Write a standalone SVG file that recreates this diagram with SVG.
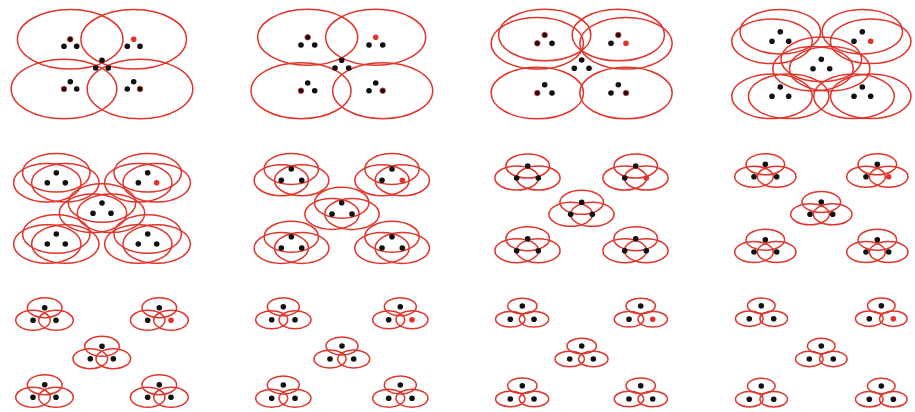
<svg xmlns="http://www.w3.org/2000/svg" width="915" height="412" viewBox="0 0 915 412">
<style>
.e{fill:none;stroke:#e0352b;stroke-width:1.5}
.d{fill:#111;r:2.8px}
.r{fill:#e0352b;r:2.8px}
.c{fill:#111;stroke:#e0352b;stroke-width:0.8;r:2.8px}
</style>
<rect width="915" height="412" fill="#fff"/>
<g id="panel1">
<ellipse class="e" cx="70.2" cy="39.3" rx="52.8" ry="29.8"/><ellipse class="e" cx="133.7" cy="39.3" rx="52.8" ry="29.8"/><ellipse class="e" cx="64" cy="89" rx="52.8" ry="29.8"/><ellipse class="e" cx="140" cy="89" rx="52.8" ry="29.8"/>
<circle class="c" cx="70.2" cy="39.3" r="2.6"/><circle class="d" cx="64" cy="46.3" r="2.6"/><circle class="d" cx="76.7" cy="46.3" r="2.6"/>
<circle class="r" cx="133.7" cy="39.3" r="2.6"/><circle class="d" cx="127.3" cy="46.3" r="2.6"/><circle class="d" cx="140" cy="46.3" r="2.6"/>
<circle class="d" cx="102" cy="60.3" r="2.6"/><circle class="d" cx="95.7" cy="68" r="2.6"/><circle class="d" cx="108.3" cy="68" r="2.6"/>
<circle class="d" cx="70.3" cy="81.7" r="2.6"/><circle class="c" cx="64" cy="89" r="2.6"/><circle class="d" cx="76.7" cy="89" r="2.6"/>
<circle class="d" cx="133.7" cy="81.7" r="2.6"/><circle class="d" cx="127.3" cy="89" r="2.6"/><circle class="c" cx="140" cy="89" r="2.6"/>
</g>
<g id="panel2">
<ellipse class="e" cx="307.7" cy="37.3" rx="50" ry="28"/><ellipse class="e" cx="375.7" cy="37.3" rx="50" ry="28"/><ellipse class="e" cx="301" cy="90.7" rx="50" ry="28"/><ellipse class="e" cx="382.7" cy="90.7" rx="50" ry="28"/>
<circle class="c" cx="307.7" cy="37.3" r="2.6"/><circle class="d" cx="301" cy="45" r="2.6"/><circle class="d" cx="314.7" cy="45" r="2.6"/>
<circle class="r" cx="375.7" cy="37.3" r="2.6"/><circle class="d" cx="369" cy="45" r="2.6"/><circle class="d" cx="382.7" cy="45" r="2.6"/>
<circle class="d" cx="341.7" cy="60.3" r="2.6"/><circle class="d" cx="335" cy="68" r="2.6"/><circle class="d" cx="348.7" cy="68" r="2.6"/>
<circle class="d" cx="307.7" cy="83" r="2.6"/><circle class="c" cx="301" cy="90.7" r="2.6"/><circle class="d" cx="314.7" cy="90.7" r="2.6"/>
<circle class="d" cx="375.7" cy="83" r="2.6"/><circle class="d" cx="369" cy="90.7" r="2.6"/><circle class="c" cx="382.7" cy="90.7" r="2.6"/>
</g>
<g id="panel3">
<ellipse class="e" cx="544.7" cy="35" rx="46.2" ry="25.8"/><ellipse class="e" cx="537.3" cy="43.3" rx="46.2" ry="25.8"/><ellipse class="e" cx="618.3" cy="35" rx="46.2" ry="25.8"/><ellipse class="e" cx="626" cy="43.3" rx="46.2" ry="25.8"/><ellipse class="e" cx="537.3" cy="93" rx="46.2" ry="25.8"/><ellipse class="e" cx="626" cy="93" rx="46.2" ry="25.8"/>
<circle class="c" cx="544.7" cy="35" r="2.6"/><circle class="c" cx="537.3" cy="43.3" r="2.6"/><circle class="d" cx="552" cy="43.3" r="2.6"/>
<circle class="c" cx="618.3" cy="35" r="2.6"/><circle class="d" cx="611" cy="43.3" r="2.6"/><circle class="r" cx="626" cy="43.3" r="2.6"/>
<circle class="d" cx="581.7" cy="60" r="2.6"/><circle class="d" cx="574.3" cy="68.3" r="2.6"/><circle class="d" cx="589" cy="68.3" r="2.6"/>
<circle class="d" cx="544.7" cy="84.7" r="2.6"/><circle class="c" cx="537.3" cy="93" r="2.6"/><circle class="d" cx="552" cy="93" r="2.6"/>
<circle class="d" cx="618.3" cy="84.7" r="2.6"/><circle class="d" cx="611" cy="93" r="2.6"/><circle class="c" cx="626" cy="93" r="2.6"/>
</g>
<g id="panel4">
<ellipse class="e" cx="780.3" cy="31.7" rx="40.3" ry="22.3"/><ellipse class="e" cx="772" cy="41.3" rx="40.3" ry="22.3"/><ellipse class="e" cx="862.3" cy="31.7" rx="40.3" ry="22.3"/><ellipse class="e" cx="870.7" cy="41.3" rx="40.3" ry="22.3"/>
<ellipse class="e" cx="821.3" cy="59.3" rx="40.3" ry="22.3"/><ellipse class="e" cx="813" cy="68.7" rx="40.3" ry="22.3"/><ellipse class="e" cx="829.7" cy="68.7" rx="40.3" ry="22.3"/>
<ellipse class="e" cx="772" cy="96.3" rx="40.3" ry="22.3"/><ellipse class="e" cx="788.7" cy="96.3" rx="40.3" ry="22.3"/><ellipse class="e" cx="854" cy="96.3" rx="40.3" ry="22.3"/><ellipse class="e" cx="870.7" cy="96.3" rx="40.3" ry="22.3"/>
<circle class="d" cx="780.3" cy="31.7" r="2.6"/><circle class="d" cx="772" cy="41.3" r="2.6"/><circle class="d" cx="788.7" cy="41.3" r="2.6"/>
<circle class="d" cx="862.3" cy="31.7" r="2.6"/><circle class="d" cx="854" cy="41.3" r="2.6"/><circle class="r" cx="870.7" cy="41.3" r="2.6"/>
<circle class="d" cx="821.3" cy="59.3" r="2.6"/><circle class="d" cx="813" cy="68.7" r="2.6"/><circle class="d" cx="829.7" cy="68.7" r="2.6"/>
<circle class="d" cx="780.3" cy="87" r="2.6"/><circle class="d" cx="772" cy="96.3" r="2.6"/><circle class="d" cx="788.7" cy="96.3" r="2.6"/>
<circle class="d" cx="862.3" cy="87" r="2.6"/><circle class="d" cx="854" cy="96.3" r="2.6"/><circle class="d" cx="870.7" cy="96.3" r="2.6"/>
</g>
<g id="panel5">
<ellipse class="e" cx="56.3" cy="172.7" rx="33.7" ry="19.3"/><ellipse class="e" cx="47.3" cy="182.7" rx="33.7" ry="19.3"/><ellipse class="e" cx="65.3" cy="182.7" rx="33.7" ry="19.3"/>
<ellipse class="e" cx="147.7" cy="172.7" rx="33.7" ry="19.3"/><ellipse class="e" cx="138.3" cy="182.7" rx="33.7" ry="19.3"/><ellipse class="e" cx="156.7" cy="182.7" rx="33.7" ry="19.3"/>
<ellipse class="e" cx="102" cy="203" rx="33.7" ry="19.3"/><ellipse class="e" cx="93" cy="213.3" rx="33.7" ry="19.3"/><ellipse class="e" cx="111" cy="213.3" rx="33.7" ry="19.3"/>
<ellipse class="e" cx="56.3" cy="234" rx="33.7" ry="19.3"/><ellipse class="e" cx="47.3" cy="244" rx="33.7" ry="19.3"/><ellipse class="e" cx="65.3" cy="244" rx="33.7" ry="19.3"/>
<ellipse class="e" cx="147.7" cy="234" rx="33.7" ry="19.3"/><ellipse class="e" cx="138.3" cy="244" rx="33.7" ry="19.3"/><ellipse class="e" cx="156.7" cy="244" rx="33.7" ry="19.3"/>
<circle class="d" cx="56.3" cy="172.7" r="2.6"/><circle class="d" cx="47.3" cy="182.7" r="2.6"/><circle class="d" cx="65.3" cy="182.7" r="2.6"/>
<circle class="d" cx="147.7" cy="172.7" r="2.6"/><circle class="d" cx="138.3" cy="182.7" r="2.6"/><circle class="r" cx="156.7" cy="182.7" r="2.6"/>
<circle class="d" cx="102" cy="203" r="2.6"/><circle class="d" cx="93" cy="213.3" r="2.6"/><circle class="d" cx="111" cy="213.3" r="2.6"/>
<circle class="d" cx="56.3" cy="234" r="2.6"/><circle class="d" cx="47.3" cy="244" r="2.6"/><circle class="d" cx="65.3" cy="244" r="2.6"/>
<circle class="d" cx="147.7" cy="234" r="2.6"/><circle class="d" cx="138.3" cy="244" r="2.6"/><circle class="d" cx="156.7" cy="244" r="2.6"/>
</g>
<g id="panel6">
<ellipse class="e" cx="291.3" cy="169" rx="27.2" ry="15.5"/><ellipse class="e" cx="281.3" cy="180.3" rx="27.2" ry="15.5"/><ellipse class="e" cx="301.7" cy="180.3" rx="27.2" ry="15.5"/>
<ellipse class="e" cx="392" cy="169" rx="27.2" ry="15.5"/><ellipse class="e" cx="382" cy="180.3" rx="27.2" ry="15.5"/><ellipse class="e" cx="402.3" cy="180.3" rx="27.2" ry="15.5"/>
<ellipse class="e" cx="341.7" cy="202.7" rx="27.2" ry="15.5"/><ellipse class="e" cx="332" cy="214" rx="27.2" ry="15.5"/><ellipse class="e" cx="352" cy="214" rx="27.2" ry="15.5"/>
<ellipse class="e" cx="291.3" cy="236.7" rx="27.2" ry="15.5"/><ellipse class="e" cx="281.3" cy="248" rx="27.2" ry="15.5"/><ellipse class="e" cx="301.7" cy="248" rx="27.2" ry="15.5"/>
<ellipse class="e" cx="392" cy="236.7" rx="27.2" ry="15.5"/><ellipse class="e" cx="382" cy="248" rx="27.2" ry="15.5"/><ellipse class="e" cx="402.3" cy="248" rx="27.2" ry="15.5"/>
<circle class="d" cx="291.3" cy="169" r="2.6"/><circle class="d" cx="281.3" cy="180.3" r="2.6"/><circle class="d" cx="301.7" cy="180.3" r="2.6"/>
<circle class="d" cx="392" cy="169" r="2.6"/><circle class="d" cx="382" cy="180.3" r="2.6"/><circle class="r" cx="402.3" cy="180.3" r="2.6"/>
<circle class="d" cx="341.7" cy="202.7" r="2.6"/><circle class="d" cx="332" cy="214" r="2.6"/><circle class="d" cx="352" cy="214" r="2.6"/>
<circle class="d" cx="291.3" cy="236.7" r="2.6"/><circle class="d" cx="281.3" cy="248" r="2.6"/><circle class="d" cx="301.7" cy="248" r="2.6"/>
<circle class="d" cx="392" cy="236.7" r="2.6"/><circle class="d" cx="382" cy="248" r="2.6"/><circle class="d" cx="402.3" cy="248" r="2.6"/>
</g>
<g id="panel7">
<ellipse class="e" cx="527.7" cy="166" rx="21.8" ry="12"/><ellipse class="e" cx="516.7" cy="178" rx="21.8" ry="12"/><ellipse class="e" cx="538.3" cy="178" rx="21.8" ry="12"/>
<ellipse class="e" cx="635.7" cy="166" rx="21.8" ry="12"/><ellipse class="e" cx="624.7" cy="178" rx="21.8" ry="12"/><ellipse class="e" cx="646.3" cy="178" rx="21.8" ry="12"/>
<ellipse class="e" cx="581.7" cy="202.3" rx="21.8" ry="12"/><ellipse class="e" cx="570.7" cy="214.3" rx="21.8" ry="12"/><ellipse class="e" cx="592.3" cy="214.3" rx="21.8" ry="12"/>
<ellipse class="e" cx="527.7" cy="238.7" rx="21.8" ry="12"/><ellipse class="e" cx="516.7" cy="250.7" rx="21.8" ry="12"/><ellipse class="e" cx="538.3" cy="250.7" rx="21.8" ry="12"/>
<ellipse class="e" cx="635.7" cy="238.7" rx="21.8" ry="12"/><ellipse class="e" cx="624.7" cy="250.7" rx="21.8" ry="12"/><ellipse class="e" cx="646.3" cy="250.7" rx="21.8" ry="12"/>
<circle class="d" cx="527.7" cy="166" r="2.6"/><circle class="d" cx="516.7" cy="178" r="2.6"/><circle class="d" cx="538.3" cy="178" r="2.6"/>
<circle class="d" cx="635.7" cy="166" r="2.6"/><circle class="d" cx="624.7" cy="178" r="2.6"/><circle class="r" cx="646.3" cy="178" r="2.6"/>
<circle class="d" cx="581.7" cy="202.3" r="2.6"/><circle class="d" cx="570.7" cy="214.3" r="2.6"/><circle class="d" cx="592.3" cy="214.3" r="2.6"/>
<circle class="d" cx="527.7" cy="238.7" r="2.6"/><circle class="d" cx="516.7" cy="250.7" r="2.6"/><circle class="d" cx="538.3" cy="250.7" r="2.6"/>
<circle class="d" cx="635.7" cy="238.7" r="2.6"/><circle class="d" cx="624.7" cy="250.7" r="2.6"/><circle class="d" cx="646.3" cy="250.7" r="2.6"/>
</g>
<g id="panel8">
<ellipse class="e" cx="765.3" cy="164.3" rx="19.3" ry="10.5"/><ellipse class="e" cx="754" cy="176.7" rx="19.3" ry="10.5"/><ellipse class="e" cx="776.7" cy="176.7" rx="19.3" ry="10.5"/>
<ellipse class="e" cx="877.3" cy="164.3" rx="19.3" ry="10.5"/><ellipse class="e" cx="866" cy="176.7" rx="19.3" ry="10.5"/><ellipse class="e" cx="888.7" cy="176.7" rx="19.3" ry="10.5"/>
<ellipse class="e" cx="821.3" cy="202" rx="19.3" ry="10.5"/><ellipse class="e" cx="810" cy="214.3" rx="19.3" ry="10.5"/><ellipse class="e" cx="832.7" cy="214.3" rx="19.3" ry="10.5"/>
<ellipse class="e" cx="765.3" cy="239.7" rx="19.3" ry="10.5"/><ellipse class="e" cx="754" cy="252" rx="19.3" ry="10.5"/><ellipse class="e" cx="776.7" cy="252" rx="19.3" ry="10.5"/>
<ellipse class="e" cx="877.3" cy="239.7" rx="19.3" ry="10.5"/><ellipse class="e" cx="866" cy="252" rx="19.3" ry="10.5"/><ellipse class="e" cx="888.7" cy="252" rx="19.3" ry="10.5"/>
<circle class="d" cx="765.3" cy="164.3" r="2.6"/><circle class="d" cx="754" cy="176.7" r="2.6"/><circle class="d" cx="776.7" cy="176.7" r="2.6"/>
<circle class="d" cx="877.3" cy="164.3" r="2.6"/><circle class="d" cx="866" cy="176.7" r="2.6"/><circle class="r" cx="888.7" cy="176.7" r="2.6"/>
<circle class="d" cx="821.3" cy="202" r="2.6"/><circle class="d" cx="810" cy="214.3" r="2.6"/><circle class="d" cx="832.7" cy="214.3" r="2.6"/>
<circle class="d" cx="765.3" cy="239.7" r="2.6"/><circle class="d" cx="754" cy="252" r="2.6"/><circle class="d" cx="776.7" cy="252" r="2.6"/>
<circle class="d" cx="877.3" cy="239.7" r="2.6"/><circle class="d" cx="866" cy="252" r="2.6"/><circle class="d" cx="888.7" cy="252" r="2.6"/>
</g>
<g id="panel9">
<ellipse class="e" cx="44.7" cy="307.7" rx="17.3" ry="10"/><ellipse class="e" cx="33" cy="320.3" rx="17.3" ry="10"/><ellipse class="e" cx="56" cy="320.3" rx="17.3" ry="10"/>
<ellipse class="e" cx="159.3" cy="307.7" rx="17.3" ry="10"/><ellipse class="e" cx="147.7" cy="320.3" rx="17.3" ry="10"/><ellipse class="e" cx="171" cy="320.3" rx="17.3" ry="10"/>
<ellipse class="e" cx="102" cy="346.3" rx="17.3" ry="10"/><ellipse class="e" cx="90.3" cy="358.7" rx="17.3" ry="10"/><ellipse class="e" cx="113.3" cy="358.7" rx="17.3" ry="10"/>
<ellipse class="e" cx="44.7" cy="384.7" rx="17.3" ry="10"/><ellipse class="e" cx="33" cy="397.3" rx="17.3" ry="10"/><ellipse class="e" cx="56" cy="397.3" rx="17.3" ry="10"/>
<ellipse class="e" cx="159.3" cy="384.7" rx="17.3" ry="10"/><ellipse class="e" cx="147.7" cy="397.3" rx="17.3" ry="10"/><ellipse class="e" cx="171" cy="397.3" rx="17.3" ry="10"/>
<circle class="d" cx="44.7" cy="307.7" r="2.6"/><circle class="d" cx="33" cy="320.3" r="2.6"/><circle class="d" cx="56" cy="320.3" r="2.6"/>
<circle class="d" cx="159.3" cy="307.7" r="2.6"/><circle class="d" cx="147.7" cy="320.3" r="2.6"/><circle class="r" cx="171" cy="320.3" r="2.6"/>
<circle class="d" cx="102" cy="346.3" r="2.6"/><circle class="d" cx="90.3" cy="358.7" r="2.6"/><circle class="d" cx="113.3" cy="358.7" r="2.6"/>
<circle class="d" cx="44.7" cy="384.7" r="2.6"/><circle class="d" cx="33" cy="397.3" r="2.6"/><circle class="d" cx="56" cy="397.3" r="2.6"/>
<circle class="d" cx="159.3" cy="384.7" r="2.6"/><circle class="d" cx="147.7" cy="397.3" r="2.6"/><circle class="d" cx="171" cy="397.3" r="2.6"/>
</g>
<g id="panel10">
<ellipse class="e" cx="283.3" cy="306.7" rx="16" ry="9"/><ellipse class="e" cx="271.7" cy="319.7" rx="16" ry="9"/><ellipse class="e" cx="295" cy="319.7" rx="16" ry="9"/>
<ellipse class="e" cx="400.3" cy="306.7" rx="16" ry="9"/><ellipse class="e" cx="388.7" cy="319.7" rx="16" ry="9"/><ellipse class="e" cx="412" cy="319.7" rx="16" ry="9"/>
<ellipse class="e" cx="342" cy="346" rx="16" ry="9"/><ellipse class="e" cx="330" cy="359" rx="16" ry="9"/><ellipse class="e" cx="353.7" cy="359" rx="16" ry="9"/>
<ellipse class="e" cx="283.3" cy="385" rx="16" ry="9"/><ellipse class="e" cx="271.7" cy="398.3" rx="16" ry="9"/><ellipse class="e" cx="295" cy="398.3" rx="16" ry="9"/>
<ellipse class="e" cx="400.3" cy="385" rx="16" ry="9"/><ellipse class="e" cx="388.7" cy="398.3" rx="16" ry="9"/><ellipse class="e" cx="412" cy="398.3" rx="16" ry="9"/>
<circle class="d" cx="283.3" cy="306.7" r="2.6"/><circle class="d" cx="271.7" cy="319.7" r="2.6"/><circle class="d" cx="295" cy="319.7" r="2.6"/>
<circle class="d" cx="400.3" cy="306.7" r="2.6"/><circle class="d" cx="388.7" cy="319.7" r="2.6"/><circle class="r" cx="412" cy="319.7" r="2.6"/>
<circle class="d" cx="342" cy="346" r="2.6"/><circle class="d" cx="330" cy="359" r="2.6"/><circle class="d" cx="353.7" cy="359" r="2.6"/>
<circle class="d" cx="283.3" cy="385" r="2.6"/><circle class="d" cx="271.7" cy="398.3" r="2.6"/><circle class="d" cx="295" cy="398.3" r="2.6"/>
<circle class="d" cx="400.3" cy="385" r="2.6"/><circle class="d" cx="388.7" cy="398.3" r="2.6"/><circle class="d" cx="412" cy="398.3" r="2.6"/>
</g>
<g id="panel11">
<ellipse class="e" cx="522.3" cy="306" rx="14.7" ry="7.8"/><ellipse class="e" cx="510.3" cy="319.3" rx="14.7" ry="7.8"/><ellipse class="e" cx="534" cy="319.3" rx="14.7" ry="7.8"/>
<ellipse class="e" cx="640.7" cy="306" rx="14.7" ry="7.8"/><ellipse class="e" cx="629" cy="319.3" rx="14.7" ry="7.8"/><ellipse class="e" cx="652.7" cy="319.3" rx="14.7" ry="7.8"/>
<ellipse class="e" cx="581.7" cy="346" rx="14.7" ry="7.8"/><ellipse class="e" cx="569.7" cy="359" rx="14.7" ry="7.8"/><ellipse class="e" cx="593.3" cy="359" rx="14.7" ry="7.8"/>
<ellipse class="e" cx="522.3" cy="385.7" rx="14.7" ry="7.8"/><ellipse class="e" cx="510.3" cy="399" rx="14.7" ry="7.8"/><ellipse class="e" cx="534" cy="399" rx="14.7" ry="7.8"/>
<ellipse class="e" cx="640.7" cy="385.7" rx="14.7" ry="7.8"/><ellipse class="e" cx="629" cy="399" rx="14.7" ry="7.8"/><ellipse class="e" cx="652.7" cy="399" rx="14.7" ry="7.8"/>
<circle class="d" cx="522.3" cy="306" r="2.6"/><circle class="d" cx="510.3" cy="319.3" r="2.6"/><circle class="d" cx="534" cy="319.3" r="2.6"/>
<circle class="d" cx="640.7" cy="306" r="2.6"/><circle class="d" cx="629" cy="319.3" r="2.6"/><circle class="r" cx="652.7" cy="319.3" r="2.6"/>
<circle class="d" cx="581.7" cy="346" r="2.6"/><circle class="d" cx="569.7" cy="359" r="2.6"/><circle class="d" cx="593.3" cy="359" r="2.6"/>
<circle class="d" cx="522.3" cy="385.7" r="2.6"/><circle class="d" cx="510.3" cy="399" r="2.6"/><circle class="d" cx="534" cy="399" r="2.6"/>
<circle class="d" cx="640.7" cy="385.7" r="2.6"/><circle class="d" cx="629" cy="399" r="2.6"/><circle class="d" cx="652.7" cy="399" r="2.6"/>
</g>
<g id="panel12">
<ellipse class="e" cx="761.3" cy="305.7" rx="13.8" ry="7.7"/><ellipse class="e" cx="749.3" cy="318.7" rx="13.8" ry="7.7"/><ellipse class="e" cx="773.7" cy="318.7" rx="13.8" ry="7.7"/>
<ellipse class="e" cx="881.3" cy="305.7" rx="13.8" ry="7.7"/><ellipse class="e" cx="869.3" cy="318.7" rx="13.8" ry="7.7"/><ellipse class="e" cx="893.3" cy="318.7" rx="13.8" ry="7.7"/>
<ellipse class="e" cx="821.3" cy="346" rx="13.8" ry="7.7"/><ellipse class="e" cx="809.3" cy="359" rx="13.8" ry="7.7"/><ellipse class="e" cx="833.3" cy="359" rx="13.8" ry="7.7"/>
<ellipse class="e" cx="761.3" cy="386" rx="13.8" ry="7.7"/><ellipse class="e" cx="749.3" cy="399.3" rx="13.8" ry="7.7"/><ellipse class="e" cx="773.7" cy="399.3" rx="13.8" ry="7.7"/>
<ellipse class="e" cx="881.3" cy="386" rx="13.8" ry="7.7"/><ellipse class="e" cx="869.3" cy="399.3" rx="13.8" ry="7.7"/><ellipse class="e" cx="893.3" cy="399.3" rx="13.8" ry="7.7"/>
<circle class="d" cx="761.3" cy="305.7" r="2.6"/><circle class="d" cx="749.3" cy="318.7" r="2.6"/><circle class="d" cx="773.7" cy="318.7" r="2.6"/>
<circle class="d" cx="881.3" cy="305.7" r="2.6"/><circle class="d" cx="869.3" cy="318.7" r="2.6"/><circle class="r" cx="893.3" cy="318.7" r="2.6"/>
<circle class="d" cx="821.3" cy="346" r="2.6"/><circle class="d" cx="809.3" cy="359" r="2.6"/><circle class="d" cx="833.3" cy="359" r="2.6"/>
<circle class="d" cx="761.3" cy="386" r="2.6"/><circle class="d" cx="749.3" cy="399.3" r="2.6"/><circle class="d" cx="773.7" cy="399.3" r="2.6"/>
<circle class="d" cx="881.3" cy="386" r="2.6"/><circle class="d" cx="869.3" cy="399.3" r="2.6"/><circle class="d" cx="893.3" cy="399.3" r="2.6"/>
</g>
</svg>
